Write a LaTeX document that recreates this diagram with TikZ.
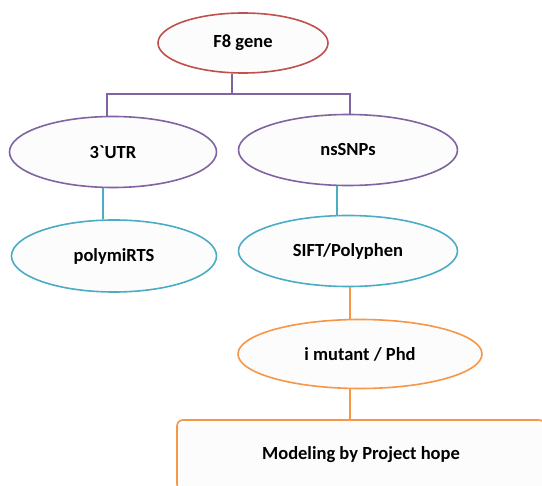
\documentclass[tikz,border=0pt]{standalone}
\usepackage{fontspec}
\setmainfont{Carlito}[Ligatures=TeXOff]
\usetikzlibrary{shapes.geometric,calc}
\definecolor{cred}{HTML}{C0504D}
\definecolor{cpurple}{HTML}{8064A2}
\definecolor{cblue}{HTML}{4BACC6}
\definecolor{corange}{HTML}{F79646}
\definecolor{cfill}{HTML}{FCFCFC}
\tikzset{
  ell/.style={ellipse, draw, line width=1.6pt, fill=cfill, inner sep=0pt,
    font=\fontsize{18.5}{22}\selectfont\bfseries, text=black},
  conn/.style={line width=1.6pt},
}
\begin{document}
\begin{tikzpicture}[x=1pt,y=-1pt]
\useasboundingbox[fill=white] (0,0) rectangle (542,486);
\node[ell, draw=cred, minimum width=170, minimum height=60] (f8) at (243,43) {\raisebox{-4pt}{F8 gene}};
\node[ell, draw=cpurple, minimum width=207, minimum height=71] (utr) at (113,152) {3`UTR};
\node[ell, draw=cpurple, minimum width=219, minimum height=71] (ns) at (348,150) {nsSNPs};
\node[ell, draw=cblue, minimum width=205, minimum height=72] (poly) at (114,256) {\raisebox{-5pt}{polymiRTS}};
\node[ell, draw=cblue, minimum width=219, minimum height=71] (sift) at (348,251) {SIFT/Polyphen};
\node[ell, draw=corange, minimum width=244, minimum height=69] (imut) at (360,354) {i mutant / Phd};
\node[draw=corange, line width=1.6pt, rounded corners=6pt, fill=cfill,
  minimum width=368, minimum height=70, inner sep=0pt,
  font=\fontsize{18.5}{22}\selectfont\bfseries] (model) at (361,455) {Modeling by Project hope};
% connectors
\coordinate (j) at ($(f8.south)+(-11,20)$);
\draw[conn, cpurple] ($(f8.south)+(-11,0)$) -- (j);
\draw[conn, cpurple] ($(utr.north)+(-6,0)$) |- (j);
\draw[conn, cpurple] ($(ns.north)+(2,0)$) |- (j);
\draw[conn, cblue] ($(utr.south)+(-10,0)$) -- ($(poly.north)+(-11,0)$);
\draw[conn, cblue] ($(ns.south)+(-11,0)$) -- ($(sift.north)+(-11,0)$);
\draw[conn, corange] ($(sift.south)+(2,0)$) -- ($(imut.north)+(-10,0)$);
\draw[conn, corange] ($(imut.south)+(-10,0)$) -- ($(model.north)+(-11,0)$);
\end{tikzpicture}
\end{document}
